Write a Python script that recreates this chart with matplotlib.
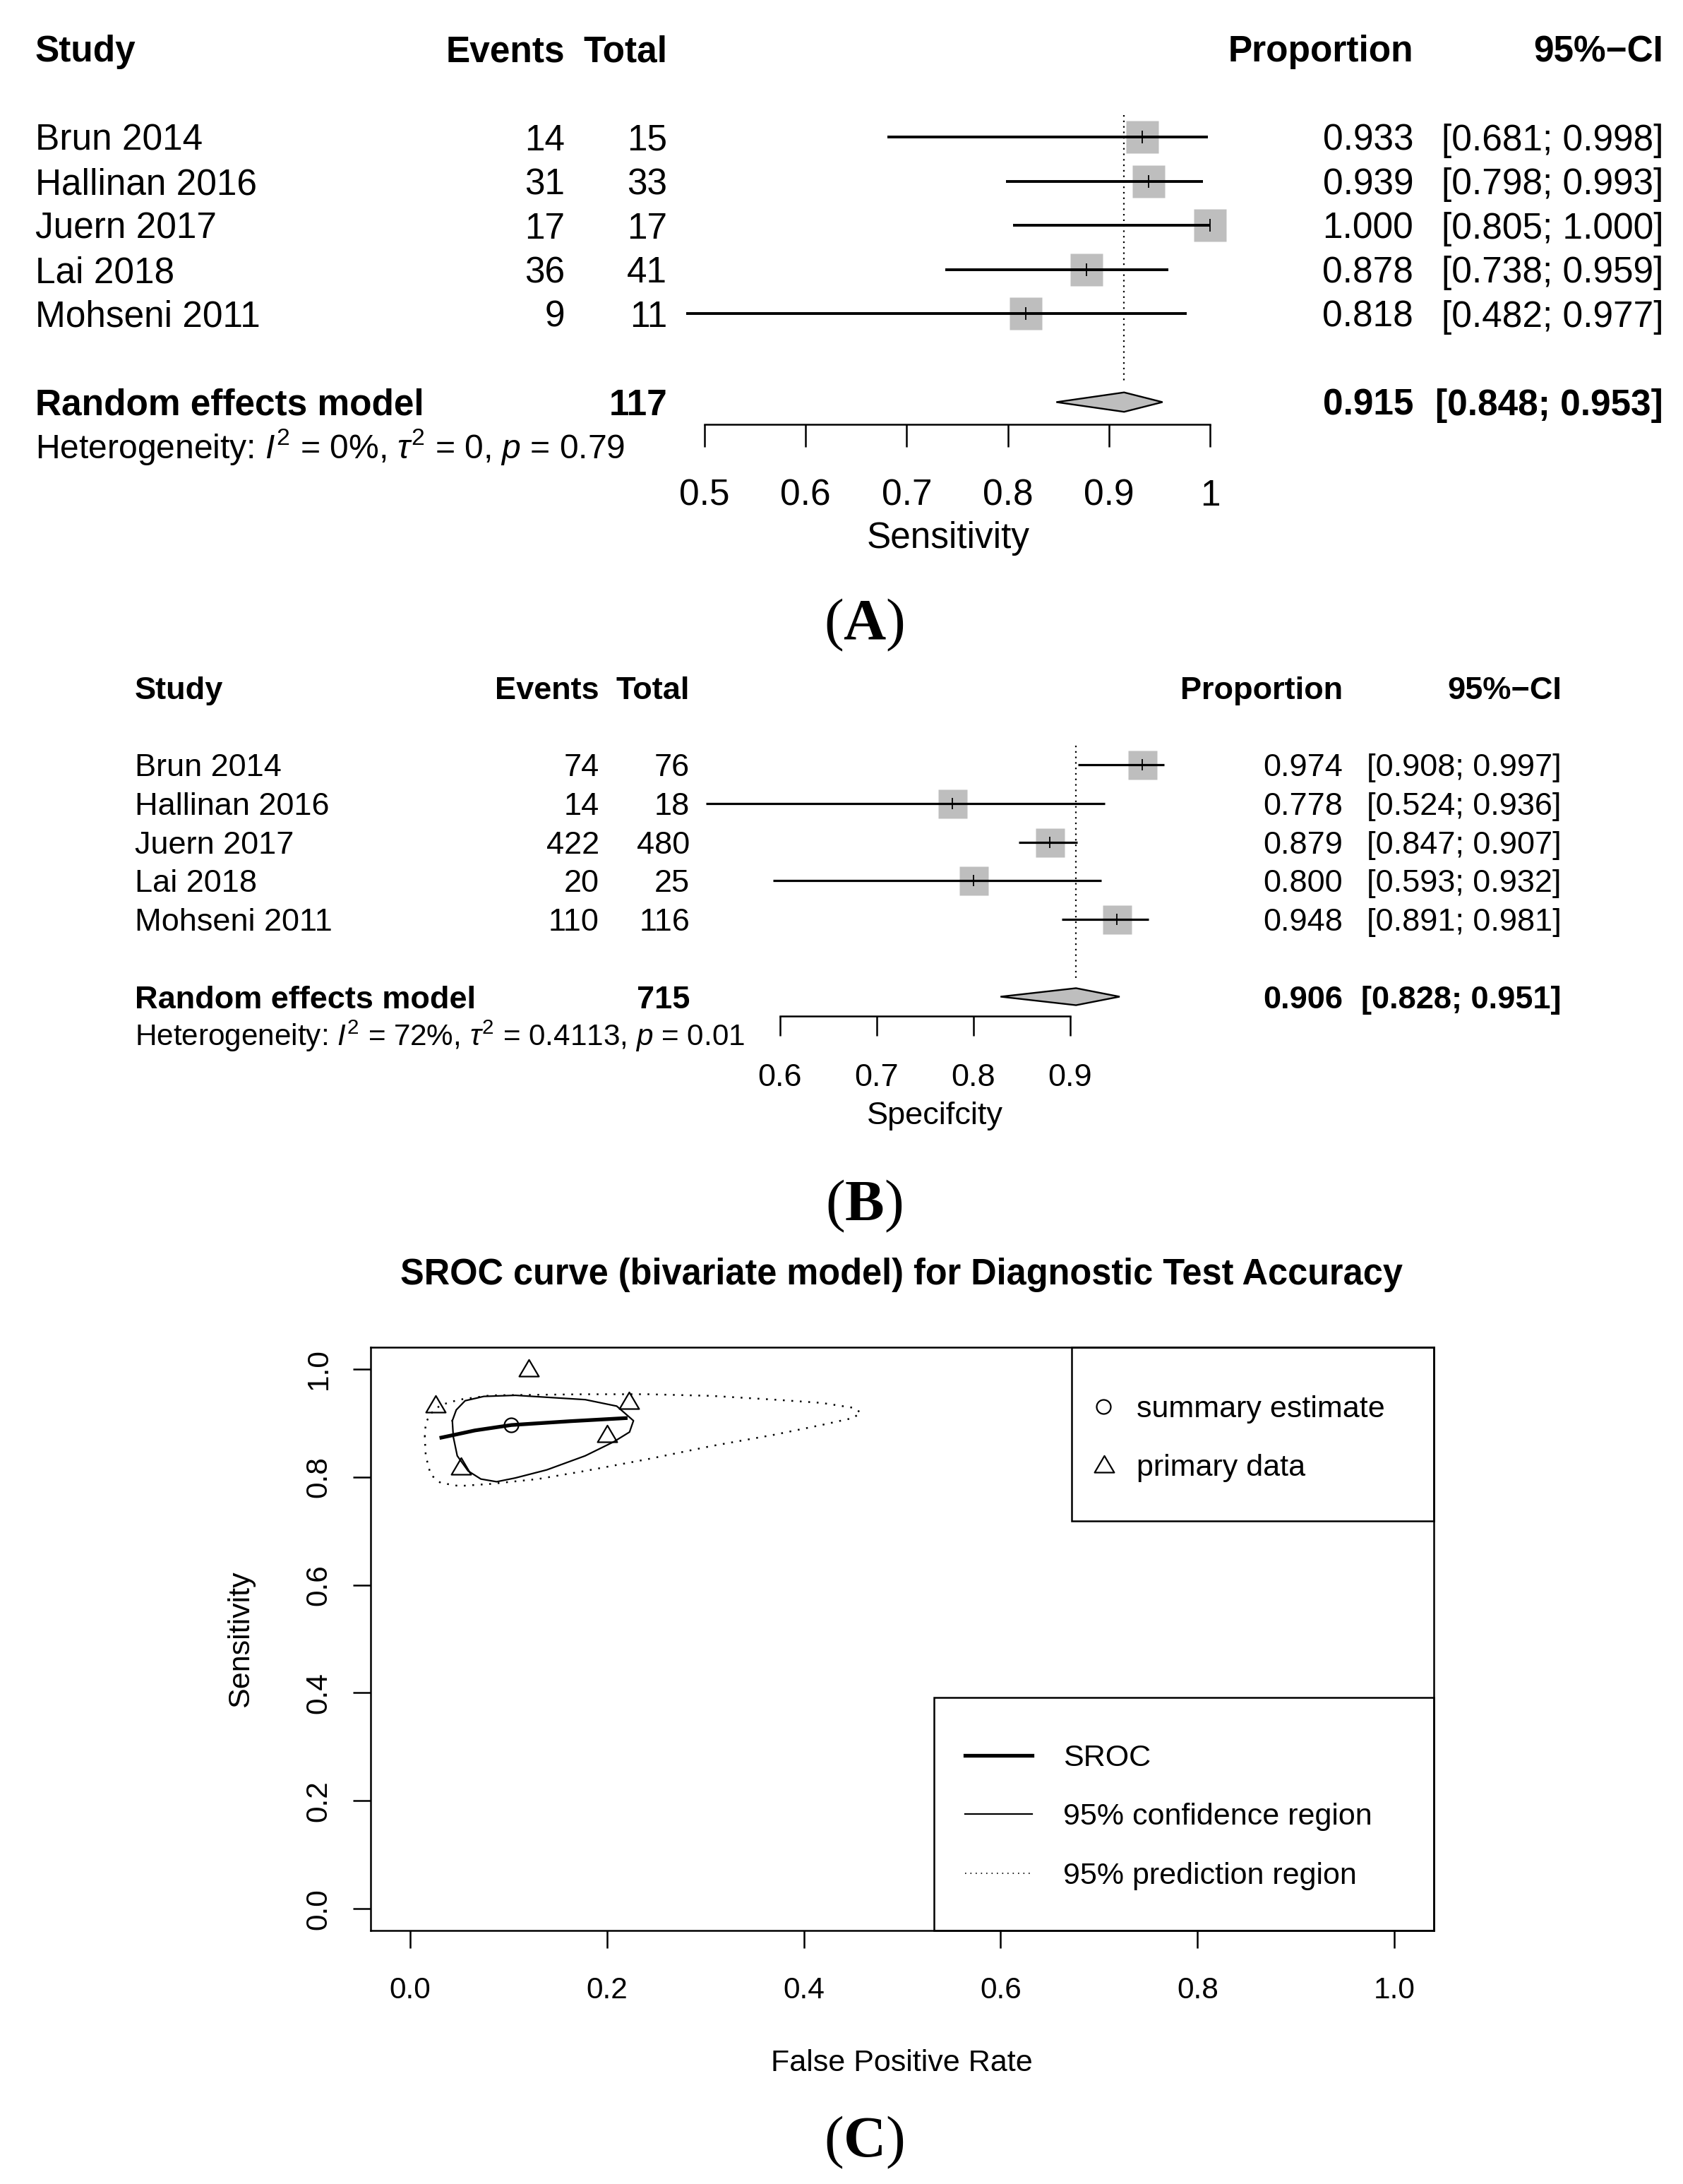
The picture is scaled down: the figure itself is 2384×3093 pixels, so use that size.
import numpy as np
import matplotlib
matplotlib.use("Agg")
import matplotlib.pyplot as plt
from matplotlib import transforms
from matplotlib.patches import Rectangle
from matplotlib.path import Path

plt.rcParams['font.family'] = ['Liberation Sans', 'DejaVu Sans']
plt.rcParams['mathtext.fontset'] = 'custom'
plt.rcParams['mathtext.rm'] = 'Liberation Sans'
plt.rcParams['mathtext.it'] = 'Liberation Sans:italic'
plt.rcParams['mathtext.bf'] = 'Liberation Serif:bold'

# ---- data ----
studies = ['Brun 2014', 'Hallinan 2016', 'Juern 2017', 'Lai 2018', 'Mohseni 2011']

# (A) sensitivity
sens_events = [14, 31, 17, 36, 9]
sens_total = [15, 33, 17, 41, 11]
sens_est = [0.933, 0.939, 1.000, 0.878, 0.818]
sens_lo = [0.681, 0.798, 0.805, 0.738, 0.482]
sens_hi = [0.998, 0.993, 1.000, 0.959, 0.977]
sens_pooled = [0.915, 0.848, 0.953]
sens_n = 117
sens_het = [0, 0, 0.79]          # I2 (%), tau2, p
sens_ticks = [0.5, 0.6, 0.7, 0.8, 0.9, 1.0]
sens_ticklabels = ['0.5', '0.6', '0.7', '0.8', '0.9', '1']

# (B) specificity
spec_events = [74, 14, 422, 20, 110]
spec_total = [76, 18, 480, 25, 116]
spec_est = [0.974, 0.778, 0.879, 0.800, 0.948]
spec_lo = [0.908, 0.524, 0.847, 0.593, 0.891]
spec_hi = [0.997, 0.936, 0.907, 0.932, 0.981]
spec_pooled = [0.906, 0.828, 0.951]
spec_n = 715
spec_het = [72, 0.4113, 0.01]
spec_ticks = [0.6, 0.7, 0.8, 0.9]
spec_ticklabels = ['0.6', '0.7', '0.8', '0.9']

# (C) SROC (false positive rate, sensitivity)
summary_fpr, summary_sens = 0.103, 0.896
sroc_fpr = [0.030, 0.043, 0.066, 0.103, 0.162, 0.221]
sroc_sens = [0.872, 0.877, 0.886, 0.896, 0.903, 0.909]
conf_fpr = [0.043, 0.047, 0.056, 0.075, 0.107, 0.178, 0.210, 0.227, 0.223, 0.207,
            0.178, 0.139, 0.107, 0.088, 0.072, 0.059, 0.048, 0.044]
conf_sens = [0.904, 0.924, 0.941, 0.949, 0.951, 0.943, 0.931, 0.904, 0.883, 0.865,
             0.839, 0.813, 0.798, 0.791, 0.796, 0.811, 0.839, 0.874]
pred_fpr = [0.015, 0.016, 0.021, 0.031, 0.050, 0.082, 0.178, 0.242, 0.306, 0.370,
            0.418, 0.450, 0.458, 0.450, 0.418, 0.370, 0.306, 0.242, 0.178, 0.130,
            0.082, 0.050, 0.031, 0.021, 0.016]
pred_sens = [0.874, 0.900, 0.917, 0.933, 0.943, 0.951, 0.953, 0.953, 0.950, 0.943,
             0.937, 0.928, 0.919, 0.909, 0.896, 0.878, 0.857, 0.833, 0.811, 0.796,
             0.787, 0.783, 0.789, 0.804, 0.839]
c_ticks = [0.0, 0.2, 0.4, 0.6, 0.8, 1.0]

W, H = 2384, 3093
PT = 0.72          # points per pixel at dpi 100
GRAY = '#BEBEBE'

fig = plt.figure(figsize=(W / 100, H / 100), dpi=100)


def cap_text(x, y, s, fs, ha='left', cap=0.716, **kw):
    # x, y in pixels from the top left; y is the middle of the capitals
    tr = fig.transFigure + transforms.ScaledTranslation(0, -cap / 2 * fs / 72, fig.dpi_scale_trans)
    return fig.text(x / W, 1 - y / H, s, fontsize=fs, ha=ha, va='baseline', transform=tr, **kw)


def forest(events, totals, est, lo, hi, pooled, n_all, het, ticks, ticklabels, xlabel,
           v0, p0, v1, p1, xlim, top, row_h, cols, fs, sq, lw, tick_len, lab_y, xlab_y):
    unit = (p1 - p0) / (v1 - v0)
    left = p0 + (xlim[0] - v0) * unit
    right = p0 + (xlim[1] - v0) * unit
    ytop = top - 0.5 * row_h
    ybot = top + 10.5 * row_h
    ax = fig.add_axes([left / W, 1 - ybot / H, (right - left) / W, (ybot - ytop) / H])
    ax.set_xlim(xlim)
    ax.set_ylim(10.5, -0.5)
    ax.patch.set_visible(False)
    for s in ['left', 'right', 'top']:
        ax.spines[s].set_visible(False)
    ax.spines['bottom'].set_position(('data', 8.5))
    ax.spines['bottom'].set_bounds(ticks[0], ticks[-1])
    ax.spines['bottom'].set_linewidth(1.8)
    ax.set_yticks([])
    ax.set_xticks(ticks)
    ax.set_xticklabels(ticklabels)
    axis_px = top + 8.5 * row_h
    pad = lab_y - 0.358 * fs / PT - (axis_px + tick_len)
    ax.tick_params(axis='x', direction='out', length=tick_len * PT, width=1.8,
                   labelsize=fs, pad=pad * PT)

    rows = np.arange(len(est)) + 2
    ax.plot(est, rows, ls='none', marker='s', ms=sq * PT, mfc=GRAY, mec='none', zorder=2)
    ax.hlines(rows, lo, hi, color='k', lw=lw, zorder=3)
    ax.plot(est, rows, ls='none', marker='|', ms=sq * 0.4 * PT, mew=1.3, color='k', zorder=4)
    ax.plot([pooled[0], pooled[0]], [1.5, 7.6], color='k', lw=1.6, ls=(0, (1, 2.5)))
    h = 0.22
    ax.fill([pooled[1], pooled[0], pooled[2], pooled[0]], [8, 8 - h, 8, 8 + h],
            facecolor=GRAY, edgecolor='k', lw=1.7, zorder=3)

    def rt(x, row, s, ha='left', size=fs, **kw):
        tr = transforms.blended_transform_factory(fig.transFigure, ax.transData) + \
            transforms.ScaledTranslation(0, -0.358 * size / 72, fig.dpi_scale_trans)
        ax.text(x / W, row, s, transform=tr, fontsize=size, ha=ha, va='baseline', **kw)

    rt(cols[0], 0, 'Study', fontweight='bold')
    rt(cols[1], 0, 'Events', 'right', fontweight='bold')
    rt(cols[2], 0, 'Total', 'right', fontweight='bold')
    rt(cols[3], 0, 'Proportion', 'right', fontweight='bold')
    rt(cols[4], 0, '95%\u2212CI', 'right', fontweight='bold')
    for i, r in enumerate(rows):
        rt(cols[0], r, studies[i])
        rt(cols[1], r, str(events[i]), 'right')
        rt(cols[2], r, str(totals[i]), 'right')
        rt(cols[3], r, f'{est[i]:.3f}', 'right')
        rt(cols[4], r, f'[{lo[i]:.3f}; {hi[i]:.3f}]', 'right')
    rt(cols[0], 8, 'Random effects model', fontweight='bold')
    rt(cols[2], 8, str(n_all), 'right', fontweight='bold')
    rt(cols[3], 8, f'{pooled[0]:.3f}', 'right', fontweight='bold')
    rt(cols[4], 8, f'[{pooled[1]:.3f}; {pooled[2]:.3f}]', 'right', fontweight='bold')
    rt(cols[0], 9, r'Heterogeneity: $\mathit{I}^2$ = ' + f'{het[0]:g}%, ' +
       r'$\tau^2$ = ' + f'{het[1]:g}, ' + r'$\mathit{p}$ = ' + f'{het[2]:g}',
       size=fs * 0.935)

    mid = (min(lo) + max(hi)) / 2
    cap_text(p0 + (mid - v0) * unit, xlab_y, xlabel, fs, ha='center')
    return ax


# (A)
forest(sens_events, sens_total, sens_est, sens_lo, sens_hi, sens_pooled, sens_n, sens_het,
       sens_ticks, sens_ticklabels, 'Sensitivity',
       v0=0.5, p0=998, v1=1.0, p1=1714, xlim=(0.45, 1.05), top=69, row_h=62.56,
       cols=[50, 800, 945, 2002, 2356], fs=37, sq=47, lw=2.8, tick_len=32,
       lab_y=696, xlab_y=758)
cap_text(1224, 878, r'($\mathbf{A}$)', 60, ha='center', cap=0.662, family='Liberation Serif')

# (B)
forest(spec_events, spec_total, spec_est, spec_lo, spec_hi, spec_pooled, spec_n, spec_het,
       spec_ticks, spec_ticklabels, 'Specifcity',
       v0=0.6, p0=1104.5, v1=0.9, p1=1516, xlim=(0.5, 1.02), top=973.5, row_h=54.75,
       cols=[191, 849, 977, 1902, 2212], fs=32.5, sq=41, lw=2.3, tick_len=28,
       lab_y=1522, xlab_y=1576)
cap_text(1224, 1701, r'($\mathbf{B}$)', 60, ha='center', cap=0.662, family='Liberation Serif')

# (C) SROC
ax3 = fig.add_axes([525 / W, 1 - 2734 / H, (2031 - 525) / W, (2734 - 1908) / H])
ax3.set_xlim(-0.04, 1.04)
ax3.set_ylim(-0.04, 1.04)
for s in ax3.spines.values():
    s.set_linewidth(1.8)
ax3.plot(pred_fpr + pred_fpr[:1], pred_sens + pred_sens[:1], color='k', lw=1.8, ls=(0, (1, 3.8)))
ax3.plot(conf_fpr + conf_fpr[:1], conf_sens + conf_sens[:1], color='k', lw=1.6)
ax3.plot(sroc_fpr, sroc_sens, color='k', lw=3.8, solid_capstyle='butt')

tri = Path([(-1, -0.72), (1, -0.72), (0, 0.98), (0, 0)], closed=True)
fpr = 1 - np.array(spec_events) / np.array(spec_total)
tpr = np.array(sens_events) / np.array(sens_total)
ax3.plot(fpr, tpr, ls='none', marker=tri, ms=20, mfc='none', mec='k', mew=1.6)
ax3.plot(summary_fpr, summary_sens, ls='none', marker='o', ms=14.4, mfc='none', mec='k', mew=1.6)

ax3.set_xticks(c_ticks)
ax3.set_xticklabels([f'{t:.1f}' for t in c_ticks])
ax3.set_yticks(c_ticks)
ax3.set_yticklabels([f'{t:.1f}' for t in c_ticks])
ax3.tick_params(axis='x', direction='out', length=18, width=1.8, labelsize=30.5, pad=28.5)
ax3.tick_params(axis='y', direction='out', length=18, width=1.8, labelsize=30.5, pad=20.5)
for t in ax3.get_yticklabels():
    t.set_rotation(90)
    t.set_va('center')

# legends (drawn in axes fraction)
ta = ax3.transAxes
ax3.add_patch(Rectangle((0.6594, 0.7022), 0.3406, 0.2978, transform=ta, fill=False,
                        ec='k', lw=1.8, clip_on=False))
ax3.plot([0.6892], [0.8983], transform=ta, marker='o', ms=14.4, mfc='none', mec='k',
         mew=1.6, clip_on=False)
ax3.plot([0.6899], [0.7978], transform=ta, marker=tri, ms=20, mfc='none', mec='k',
         mew=1.6, clip_on=False)
leg_fs = 31
off = transforms.ScaledTranslation(0, -0.358 * leg_fs / 72, fig.dpi_scale_trans)
ax3.text(0.7205, 0.8983, 'summary estimate', transform=ta + off, fontsize=leg_fs, va='baseline')
ax3.text(0.7205, 0.7978, 'primary data', transform=ta + off, fontsize=leg_fs, va='baseline')

ax3.add_patch(Rectangle((0.5299, 0.0), 0.4701, 0.3995, transform=ta, fill=False,
                        ec='k', lw=1.8, clip_on=False))
ax3.plot([0.5591, 0.6222], [0.3002, 0.3002], transform=ta, color='k', lw=3.8, clip_on=False)
ax3.plot([0.5591, 0.6222], [0.1998, 0.1998], transform=ta, color='k', lw=1.6, clip_on=False)
ax3.plot([0.5591, 0.6222], [0.0981, 0.0981], transform=ta, color='k', lw=1.2,
         ls=(0, (1, 3.5)), clip_on=False)
ax3.text(0.6514, 0.3002, 'SROC', transform=ta + off, fontsize=leg_fs, va='baseline')
ax3.text(0.6514, 0.1998, '95% confidence region', transform=ta + off, fontsize=leg_fs, va='baseline')
ax3.text(0.6514, 0.0981, '95% prediction region', transform=ta + off, fontsize=leg_fs, va='baseline')

cap_text(1277, 1801, 'SROC curve (bivariate model) for Diagnostic Test Accuracy', 36.4,
         ha='center', fontweight='bold')
cap_text(1277, 2918, 'False Positive Rate', 31, ha='center')
fig.text(341 / W, 1 - 2321 / H, 'Sensitivity', rotation=90, ha='center', va='center', fontsize=31)
cap_text(1224, 3027, r'($\mathbf{C}$)', 60, ha='center', cap=0.662, family='Liberation Serif')

fig.savefig('out.png', dpi=100)
